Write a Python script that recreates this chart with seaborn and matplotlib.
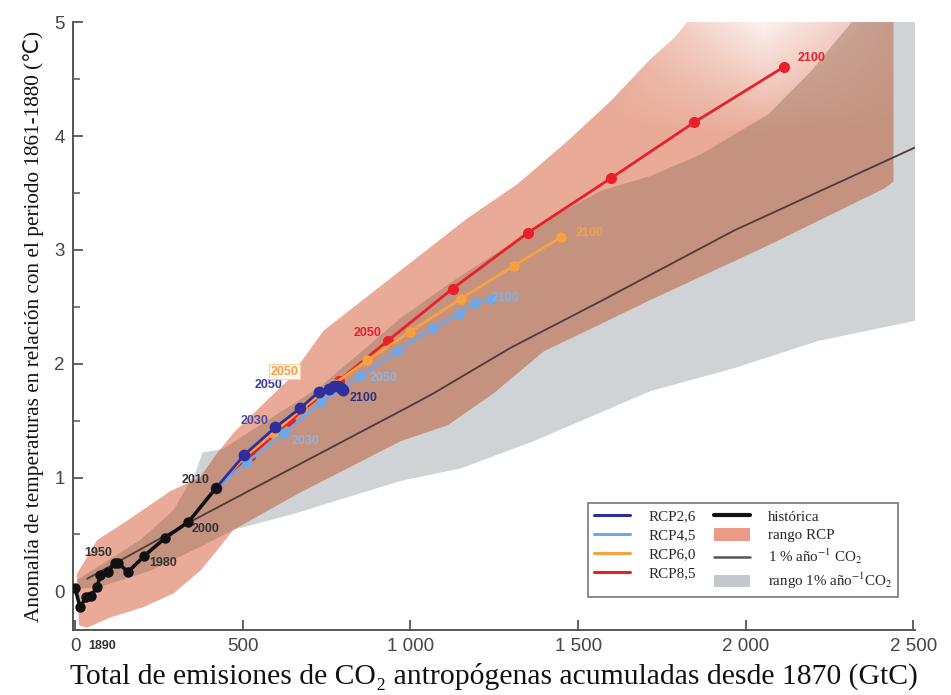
import matplotlib
matplotlib.use("Agg")
import matplotlib.pyplot as plt
import seaborn as sns
import numpy as np
from matplotlib.lines import Line2D
from matplotlib.patches import Patch, Polygon

# ---------------- data ----------------
hist_x = [0, 15, 33, 48, 66, 75, 99, 119, 128, 158, 206, 269, 338, 421]
hist_y = [0.03, -0.14, -0.05, -0.04, 0.04, 0.14, 0.17, 0.25, 0.25, 0.17, 0.31, 0.47, 0.61, 0.91]

rcp26_x = [421, 505, 597, 672, 726, 756, 771, 783, 792, 800]
rcp26_y = [0.91, 1.20, 1.44, 1.61, 1.75, 1.78, 1.80, 1.80, 1.79, 1.77]

rcp45_x = [421, 514, 624, 732, 851, 959, 1066, 1144, 1192, 1240]
rcp45_y = [0.91, 1.14, 1.39, 1.66, 1.89, 2.11, 2.31, 2.44, 2.53, 2.57]

rcp60_x = [421, 505, 591, 678, 771, 872, 998, 1150, 1308, 1449]
rcp60_y = [0.91, 1.18, 1.39, 1.61, 1.82, 2.03, 2.28, 2.57, 2.86, 3.11]

rcp85_x = [421, 523, 642, 786, 932, 1126, 1350, 1598, 1846, 2115]
rcp85_y = [0.91, 1.19, 1.50, 1.85, 2.20, 2.66, 3.15, 3.63, 4.12, 4.61]

one_pct_x = [36, 343, 1000, 1069, 1299, 1568, 1965, 2505]
one_pct_y = [0.11, 0.61, 1.63, 1.74, 2.14, 2.55, 3.17, 3.90]

rcp_range_upper_x = [5, 66, 155, 284, 373, 420, 472, 573, 633, 741, 971, 1171, 1320, 1470, 1598, 1717, 1786, 1840, 2440]
rcp_range_upper_y = [0.15, 0.45, 0.62, 0.88, 1.00, 1.20, 1.39, 1.68, 1.85, 2.29, 2.82, 3.28, 3.58, 3.96, 4.31, 4.68, 4.86, 5.05, 5.05]
rcp_range_lower_x = [12, 36, 105, 203, 293, 373, 424, 472, 672, 971, 1111, 1248, 1398, 1568, 1708, 2067, 2413, 2440]
rcp_range_lower_y = [-0.30, -0.32, -0.23, -0.14, -0.02, 0.18, 0.36, 0.54, 0.87, 1.32, 1.46, 1.74, 2.11, 2.35, 2.55, 3.04, 3.54, 3.60]

pct_range_upper_x = [6, 194, 293, 360, 380, 440, 732, 971, 1129, 1419, 1568, 1717, 1867, 2067, 2195, 2276, 2345, 2510]
pct_range_upper_y = [0.10, 0.45, 0.71, 1.05, 1.22, 1.25, 1.80, 2.40, 2.73, 3.28, 3.52, 3.65, 3.84, 4.19, 4.57, 4.86, 5.10, 5.10]
pct_range_lower_x = [10, 75, 224, 373, 472, 651, 971, 1150, 1368, 1717, 1965, 2216, 2510]
pct_range_lower_y = [0.02, 0.04, 0.18, 0.39, 0.54, 0.68, 0.97, 1.08, 1.32, 1.76, 1.96, 2.20, 2.38]

x_ticks = [0, 500, 1000, 1500, 2000, 2500]
x_tick_labels = ["0", "500", "1 000", "1 500", "2 000", "2 500"]
y_ticks = [0, 1, 2, 3, 4, 5]
y_tick_labels = ["0", "1", "2", "3", "4", "5"]

# ---------------- style ----------------
sns.set_theme(style="white")
plt.rcParams["font.family"] = ["Liberation Sans", "DejaVu Sans"]
plt.rcParams["mathtext.fontset"] = "stix"

C26 = "#2e2f9c"
C45 = "#6fa8e6"
C60 = "#f5a142"
C85 = "#e8202a"
C_SALMON = "#e9aa97"
C_GRAY = "#d0d3d6"
C_OVER = "#c4927f"
C_PCT = "#4a3c38"

fig = plt.figure(figsize=(9.51, 6.95), dpi=100)
ax = fig.add_axes([0.0768, 0.0935, 0.8855, 0.8745])

# ranges
sal_xy = np.column_stack([rcp_range_upper_x + rcp_range_lower_x[::-1],
                          rcp_range_upper_y + rcp_range_lower_y[::-1]])
gray_xy = np.column_stack([pct_range_upper_x + pct_range_lower_x[::-1],
                           pct_range_upper_y + pct_range_lower_y[::-1]])
sal_patch = Polygon(sal_xy, closed=True, facecolor=C_SALMON, edgecolor="none", zorder=1)
gray_patch = Polygon(gray_xy, closed=True, facecolor=C_GRAY, edgecolor="none", zorder=1)
ax.add_patch(gray_patch)
ax.add_patch(sal_patch)

# fade of the RCP plume towards the top
gx = np.linspace(1600, 2450, 120)
gy = np.linspace(3.6, 5.05, 120)
GX, GY = np.meshgrid(gx, gy)
alpha = np.clip((GY - 4.0) / 1.0, 0, 1) * np.clip(1 - np.abs(GX - 2050) / 500, 0, 1) * 0.85
rgba = np.ones(GX.shape + (4,))
rgba[..., 3] = alpha
fade = ax.imshow(rgba, extent=(gx[0], gx[-1], gy[0], gy[-1]), origin="lower",
                 aspect="auto", zorder=1.2, interpolation="bilinear")
fade.set_clip_path(sal_patch)

over_patch = Polygon(gray_xy, closed=True, facecolor=C_OVER, edgecolor="none", zorder=1.5)
ax.add_patch(over_patch)
over_patch.set_clip_path(sal_patch)
fade2 = ax.imshow(rgba * np.array([0.85, 0.86, 0.87, 0.6]), extent=(gx[0], gx[-1], gy[0], gy[-1]),
                  origin="lower", aspect="auto", zorder=1.6, interpolation="bilinear")
fade2.set_clip_path(over_patch)

# 1% line
sns.lineplot(x=one_pct_x, y=one_pct_y, ax=ax, color=C_PCT, linewidth=1.3,
             sort=False, estimator=None, zorder=2)

# scenario lines
for xs, ys, col, ms in [(rcp85_x, rcp85_y, C85, 8),
                        (rcp60_x, rcp60_y, C60, 7.5),
                        (rcp45_x, rcp45_y, C45, 7.5),
                        (rcp26_x, rcp26_y, C26, 8.5)]:
    sns.lineplot(x=xs, y=ys, ax=ax, color=col, linewidth=2.0, marker="o",
                 markersize=ms, markeredgewidth=0, sort=False, estimator=None, zorder=3)

sns.lineplot(x=hist_x, y=hist_y, ax=ax, color="#111111", linewidth=2.6, marker="o",
             markersize=7.5, markeredgewidth=0, sort=False, estimator=None, zorder=4)

# year labels
lbl = dict(fontsize=9, fontweight="bold", zorder=6)
ax.text(38, -0.48, "1890", color="#333333", ha="left", va="center", **lbl)
ax.text(69, 0.34, "1950", color="#333333", ha="center", va="center", **lbl)
ax.text(263, 0.25, "1980", color="#333333", ha="center", va="center", **lbl)
ax.text(388, 0.55, "2000", color="#333333", ha="center", va="center", **lbl)
ax.text(358, 0.98, "2010", color="#333333", ha="center", va="center", **lbl)
ax.text(535, 1.50, "2030", color="#4a4aa0", ha="center", va="center", **lbl)
ax.text(576, 1.81, "2050", color="#3a3a96", ha="center", va="center", **lbl)
ax.text(860, 1.70, "2100", color="#2e2f80", ha="center", va="center", **lbl)
ax.text(687, 1.32, "2030", color="#8ab4e0", ha="center", va="center", **lbl)
ax.text(920, 1.87, "2050", color="#8ab4e0", ha="center", va="center", **lbl)
ax.text(1284, 2.58, "2100", color="#7fb0e3", ha="center", va="center", **lbl)
ax.text(624, 1.93, "2050", color="#f5a142", ha="center", va="center",
        bbox=dict(boxstyle="square,pad=0.1", facecolor="#fff7ee", edgecolor="#f7d2a8", linewidth=0.8), **lbl)
ax.text(1534, 3.15, "2100", color="#f5a142", ha="center", va="center", **lbl)
ax.text(872, 2.27, "2050", color="#e8202a", ha="center", va="center", **lbl)
ax.text(2197, 4.69, "2100", color="#e8202a", ha="center", va="center", **lbl)

# axes
ax.set_xlim(-6, 2505)
ax.set_ylim(-0.34, 5.0)
ax.set_xticks(x_ticks)
ax.set_xticklabels(x_tick_labels)
ax.set_yticks(y_ticks)
ax.set_yticklabels(y_tick_labels)
ax.set_yticks([0.5, 1.5, 2.5, 3.5, 4.5], minor=True)
ax.tick_params(axis="both", which="major", direction="in", length=7, width=1.3,
               color="#555555", labelsize=13.5, labelcolor="#444444", pad=6)
ax.tick_params(axis="y", which="minor", direction="in", length=5, width=1.1, color="#555555", left=True)
ax.tick_params(axis="x", which="major", bottom=True)
ax.tick_params(axis="y", which="major", left=True)
for s in ["top", "right"]:
    ax.spines[s].set_visible(False)
for s in ["left", "bottom"]:
    ax.spines[s].set_color("#555555")
    ax.spines[s].set_linewidth(1.4)

ax.set_xlabel("Total de emisiones de CO₂ antropógenas acumuladas desde 1870 (GtC)",
              family=["Liberation Serif", "DejaVu Serif"], fontsize=21.3, color="#111111", labelpad=5)
ax.set_ylabel("Anomalía de temperaturas en relación con el periodo 1861-1880 (℃)",
              family=["Liberation Serif", "DejaVu Sans"], fontsize=15.3, color="#111111", labelpad=7)

# legend
handles = [
    Line2D([], [], color=C26, lw=2.2),
    Line2D([], [], color=C45, lw=2.2),
    Line2D([], [], color=C60, lw=2.2),
    Line2D([], [], color=C85, lw=2.2),
    Line2D([], [], color="#111111", lw=3),
    Patch(facecolor="#eb9a86", edgecolor="none"),
    Line2D([], [], color="#555555", lw=1.8),
    Patch(facecolor="#c4c7cc", edgecolor="none"),
]
labels = ["RCP2,6", "RCP4,5", "RCP6,0", "RCP8,5",
          "histórica", "rango RCP", "1 % año$^{-1}$ CO$_2$", "rango 1% año$^{-1}$CO$_2$"]
leg = ax.legend(handles, labels, loc="lower left", bbox_to_anchor=(0.612, 0.054, 0.368, 0.181),
                mode="expand", ncol=2, fancybox=False, frameon=True,
                prop={"family": ["Liberation Serif", "DejaVu Serif"], "size": 10.8},
                handlelength=2.4, handleheight=0.9, labelspacing=0.3, borderaxespad=0,
                columnspacing=1.0, handletextpad=1.2)
leg.get_frame().set_edgecolor("#555555")
leg.get_frame().set_linewidth(1.2)
leg.set_zorder(10)

fig.savefig("out.png", dpi=100)
